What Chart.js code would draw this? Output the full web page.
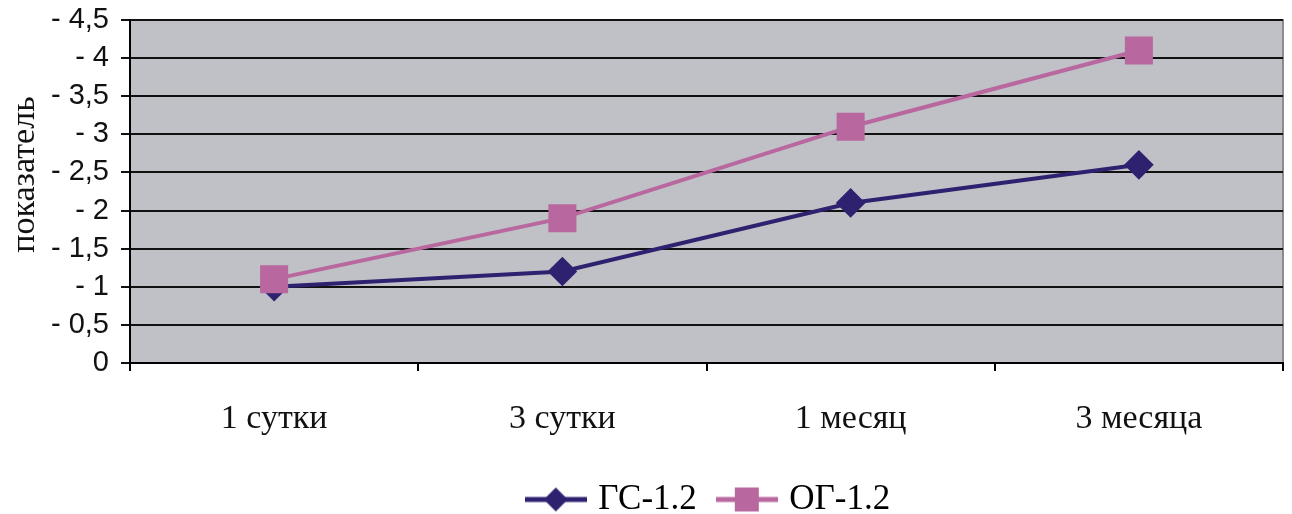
<!DOCTYPE html>
<html>
<head>
<meta charset="utf-8">
<script src="https://cdn.jsdelivr.net/npm/chart.js@4/dist/chart.umd.min.js"></script>
<style>
  html, body { margin: 0; padding: 0; background: #fff; }
  #wrap { width: 1292px; height: 514px; }
</style>
</head>
<body>
<div id="wrap"><canvas id="chart" width="1292" height="514"></canvas></div>
<script>
// --- данные ---
const categories = ['1 сутки', '3 сутки', '1 месяц', '3 месяца'];
const gsValues = [1.0, 1.2, 2.1, 2.6];
const ogValues = [1.1, 1.9, 3.1, 4.1];
const yTickLabels = ['0', '- 0,5', '- 1', '- 1,5', '- 2', '- 2,5', '- 3', '- 3,5', '- 4', '- 4,5'];

const gsColor = '#2e2270';
const ogColor = '#b9679f';
const serif = '"Liberation Serif", "Times New Roman", serif';

// картинка для легенды: линия + маркер
function legendIcon(color, shape) {
    const c = document.createElement('canvas');
    c.width = 62; c.height = 30;
    const g = c.getContext('2d');
    g.strokeStyle = color; g.lineWidth = 5;
    g.beginPath(); g.moveTo(0, 15); g.lineTo(62, 15); g.stroke();
    g.fillStyle = color;
    g.beginPath();
    if (shape === 'diamond') {
        g.moveTo(31, 3); g.lineTo(43, 15); g.lineTo(31, 27); g.lineTo(19, 15);
    } else {
        g.rect(19, 3, 24, 24);
    }
    g.closePath(); g.fill();
    return c;
}

const plotBg = {
    id: 'plotBg',
    afterLayout(chart) {
        // легенда в оригинале сдвинута вправо и чуть ниже
        const lg = chart.legend;
        lg.left += 69; lg.right += 69;
        lg.top += 13; lg.bottom += 13;
    },
    beforeDraw(chart) {
        const { ctx, chartArea: a } = chart;
        ctx.save();
        ctx.fillStyle = '#c0c1c6';
        ctx.fillRect(a.left, a.top, a.right - a.left, a.bottom - a.top);
        ctx.strokeStyle = '#8c8c8c';
        ctx.lineWidth = 2;
        ctx.beginPath();
        ctx.moveTo(a.left, a.top); ctx.lineTo(a.right, a.top); ctx.lineTo(a.right, a.bottom);
        ctx.stroke();
        ctx.restore();
    }
};

const ctx = document.getElementById('chart');
new Chart(ctx, {
    type: 'line',
    data: {
        labels: categories,
        datasets: [{
            label: 'ГС-1.2',
            data: gsValues,
            order: 1,
            borderColor: gsColor,
            backgroundColor: gsColor,
            borderWidth: 4,
            pointStyle: 'rectRot',
            pointRadius: 12,
            pointHoverRadius: 12,
            tension: 0
        }, {
            label: 'ОГ-1.2',
            data: ogValues,
            order: 0,
            borderColor: ogColor,
            backgroundColor: ogColor,
            borderWidth: 4,
            pointStyle: 'rect',
            pointRadius: 17,
            pointHoverRadius: 17,
            tension: 0
        }]
    },
    options: {
        responsive: false,
        animation: false,
        layout: { autoPadding: false, padding: { top: 20, right: 9, left: 0, bottom: 0 } },
        plugins: {
            tooltip: { enabled: false },
            legend: {
                position: 'bottom',
                labels: {
                    usePointStyle: true,
                    pointStyleWidth: 50,
                    padding: 25,
                    color: '#111',
                    font: { family: serif, size: 35 },
                    generateLabels(chart) {
                        return chart.data.datasets.map((ds, i) => ({
                            text: ds.label,
                            pointStyle: legendIcon(ds.borderColor, i === 0 ? 'diamond' : 'square'),
                            fillStyle: ds.borderColor,
                            strokeStyle: ds.borderColor,
                            lineWidth: 0,
                            datasetIndex: i
                        }));
                    }
                }
            }
        },
        scales: {
            x: {
                offset: true,
                grid: { offset: true, drawOnChartArea: false, drawTicks: true, tickLength: 8, color: '#000', lineWidth: 2 },
                border: { color: '#000', width: 2 },
                ticks: {
                    color: '#111',
                    padding: 28,
                    font: { family: serif, size: 34 }
                },
                afterFit(s) {
                    s.height = 514 - 363 - s.chart.legend.height;
                    s.paddingLeft = 0; s.paddingRight = 0;
                }
            },
            y: {
                min: 0,
                max: 4.5,
                grid: { color: '#111', lineWidth: 2, tickLength: 9 },
                border: { color: '#000', width: 2 },
                ticks: {
                    stepSize: 0.5,
                    color: '#111',
                    padding: 12,
                    font: { family: '"Liberation Sans", Arial, sans-serif', size: 29 },
                    callback: (v) => yTickLabels[Math.round(v * 2)]
                },
                title: {
                    display: true,
                    text: '    показатель',
                    color: '#111',
                    padding: { top: 5, bottom: 0 },
                    font: { family: serif, size: 34 }
                },
                afterFit(s) {
                    s.width = 130;
                    s.paddingTop = 0; s.paddingBottom = 0;
                }
            }
        }
    },
    plugins: [plotBg]
});
</script>
</body>
</html>
